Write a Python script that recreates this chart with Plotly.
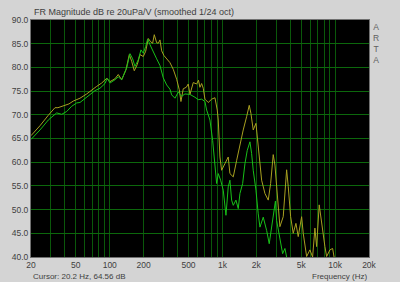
import plotly.graph_objects as go

# Yellow (olive) trace
freq_a = [20, 24.04, 28.48, 32.65, 34.71, 37.45, 40.06, 43.46, 47.47, 54.43, 62.42, 69.11, 76.56, 84.79,
          93.92, 100.5, 111.3, 119.0, 127.6, 139.3, 149.1, 156.5, 165.1, 175.5, 185.4, 198.4, 208.4,
          219.7, 230.8, 240.4, 248.4, 260.9, 269.6, 279.1, 288.9, 302.8, 320.0, 342.3, 366.2, 392.6,
          414.0, 428.5, 449.2, 477.6, 497.5, 515.1, 551.1, 590.6, 612.7, 631.8, 654.1, 675.9, 699.8,
          748.6, 802.4, 858.4, 899.7, 918.3, 950.7, 984.3, 1053, 1126, 1166, 1248, 1338, 1431, 1530,
          1640, 1730, 1791, 1877, 1984, 2038, 2122, 2229, 2384, 2551, 2679, 2825, 2925, 3028, 3239,
          3465, 3715, 3838, 4031, 4251, 4492, 4708, 5047, 5214, 5590, 5978, 6318, 6622, 6856, 7230,
          7594, 7846, 8123, 8410, 8997, 9507, 9965, 11040]
mag_a = [65.6, 67.7, 69.9, 71.5, 71.5, 71.8, 72.1, 72.3, 72.9, 73.5, 74.4, 75.3, 76.0, 76.7,
         77.7, 77.0, 77.6, 78.5, 77.4, 79.5, 82.7, 81.3, 79.3, 80.6, 82.7, 82.3, 83.4,
         86.1, 85.4, 85.1, 86.9, 85.2, 85.1, 85.8, 83.5, 82.5, 81.8, 81.0, 79.6, 77.5,
         75.3, 72.8, 75.5, 75.8, 76.5, 74.3, 76.8, 76.5, 77.3, 75.8, 76.6, 75.6, 73.3,
         72.6, 73.3, 73.6, 71.0, 68.9, 61.1, 58.3, 59.7, 61.1, 57.6, 56.9, 60.4, 63.9, 66.8,
         69.6, 72.0, 70.3, 66.8, 68.2, 65.4, 60.4, 56.2, 53.4, 52.0, 55.5, 61.6, 59.4, 54.2, 46.4,
         48.5, 58.4, 54.9, 48.5, 45.0, 47.1, 44.3, 48.5, 45.0, 40.1, 41.5, 40.0, 46.1, 42.2, 51.0,
         47.1, 44.3, 42.2, 40.1, 41.5, 41.8, 39.0, 37.0]

# Green trace
freq_b = [20, 24.04, 28.48, 33.81, 37.45, 41.47, 45.94, 50.88, 54.43, 60.29, 66.75, 73.94, 81.89,
          90.70, 95.07, 100.5, 111.3, 119.0, 127.6, 141.3, 151.2, 159.7, 167.4, 179.1, 189.3, 198.4,
          208.4, 217.0, 227.5, 243.4, 260.9, 279.1, 298.5, 320.0, 342.3, 354.4, 379.1, 405.6, 434.7,
          465.1, 515.1, 570.6, 610.2, 654.1, 699.8, 724.5, 775.1, 819.0, 829.1, 858.4, 888.7, 918.3,
          964.4, 1017, 1075, 1126, 1166, 1207, 1248, 1318, 1382, 1431, 1512, 1585, 1661, 1755, 1817,
          1877, 1984, 2079, 2153, 2303, 2469, 2603, 2734, 2866, 2954, 3028, 3239, 3423, 3588, 3715,
          3974]
mag_b = [64.8, 66.8, 68.9, 70.4, 70.1, 70.7, 71.8, 72.5, 72.6, 73.5, 74.2, 75.1, 75.6,
         76.6, 77.7, 76.7, 77.4, 78.0, 77.4, 79.9, 82.9, 81.8, 80.2, 81.6, 83.7, 83.0,
         84.4, 86.0, 84.8, 83.2, 81.8, 80.4, 77.8, 76.3, 75.4, 74.2, 73.5, 74.8, 73.9,
         74.4, 74.3, 73.7, 73.2, 73.3, 72.8, 71.0, 68.9, 64.6, 63.2, 58.7, 55.5, 57.6,
         56.2, 54.1, 48.8, 54.8, 56.2, 52.0, 50.9, 52.0, 50.2, 53.4, 55.5, 59.7, 62.5, 64.3, 61.8,
         58.3, 54.1, 49.1, 46.3, 48.4, 45.6, 42.8, 46.3, 49.1, 51.8, 47.7, 43.5, 40.7, 41.8, 40.0,
         38.0]

x_grid = [20, 30, 40, 50, 60, 70, 80, 90, 100, 200, 300, 400, 500, 600, 700, 800, 900,
          1000, 2000, 3000, 4000, 5000, 6000, 7000, 8000, 9000, 10000, 20000]
x_labels = {20: "20", 50: "50", 100: "100", 200: "200", 500: "500", 1000: "1k",
            2000: "2k", 5000: "5k", 10000: "10k", 20000: "20k"}
y_ticks = [40, 45, 50, 55, 60, 65, 70, 75, 80, 85, 90]

fig = go.Figure()
fig.add_trace(go.Scatter(x=freq_a, y=mag_a, mode="lines",
                         line=dict(color="#a8a020", width=1), showlegend=False))
fig.add_trace(go.Scatter(x=freq_b, y=mag_b, mode="lines",
                         line=dict(color="#18c018", width=1), showlegend=False))

font = "Liberation Sans, Arial, sans-serif"
fig.update_layout(
    width=400, height=282,
    margin=dict(l=31, r=31, t=20, b=25),
    paper_bgcolor="#d4d4d4",
    plot_bgcolor="#000000",
    font=dict(family=font, size=9, color="#404040"),
    xaxis=dict(type="log", range=[1.30103, 4.30103],
               tickvals=x_grid, ticktext=[x_labels.get(v, "") for v in x_grid],
               showgrid=True, gridcolor="#0a580a", gridwidth=1,
               ticks="", tickfont=dict(size=8.5, color="#404040"),
               showline=True, linecolor="#707070", linewidth=1, mirror=True,
               zeroline=False, fixedrange=True),
    yaxis=dict(range=[40, 90], tickvals=y_ticks,
               ticktext=["%.1f" % v for v in y_ticks],
               showgrid=True, gridcolor="#0c680c", gridwidth=1,
               ticks="", tickfont=dict(size=8.5, color="#404040"),
               showline=True, linecolor="#707070", linewidth=1, mirror=True,
               zeroline=False, fixedrange=True),
    annotations=[
        dict(text="FR Magnitude dB re 20uPa/V (smoothed 1/24 oct)", xref="paper", yref="paper",
             x=0.0, y=1.0, xanchor="left", yanchor="bottom", yshift=1, xshift=1,
             showarrow=False, font=dict(size=9, color="#404040", family=font)),
        dict(text="A<br>R<br>T<br>A", xref="paper", yref="paper", x=1.0, y=1.0,
             xanchor="left", yanchor="top", xshift=2, showarrow=False, align="center",
             font=dict(size=8.5, color="#606060", family=font)),
        dict(text="Cursor: 20.2 Hz, 64.56 dB", xref="paper", yref="paper", x=0.0, y=0.0,
             xanchor="left", yanchor="top", yshift=-13, showarrow=False,
             font=dict(size=8, color="#404040", family=font)),
        dict(text="Frequency (Hz)", xref="paper", yref="paper", x=1.0, y=0.0,
             xanchor="right", yanchor="top", yshift=-13, showarrow=False,
             font=dict(size=8, color="#404040", family=font)),
    ],
)

fig.write_html("out.html")
